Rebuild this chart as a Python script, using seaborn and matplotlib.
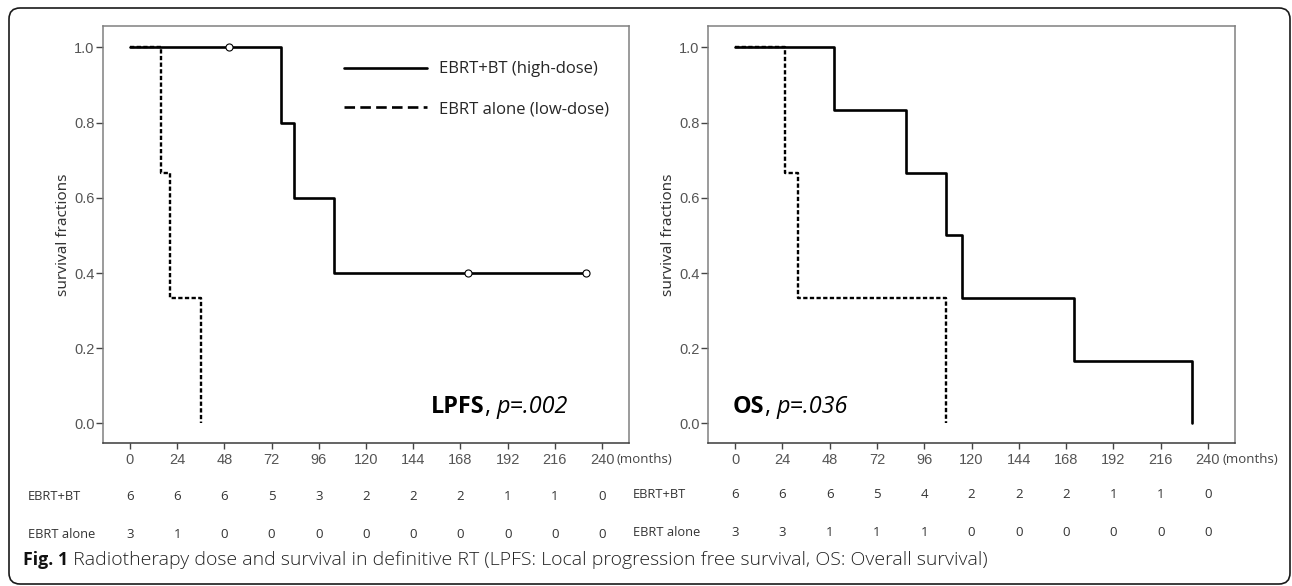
import matplotlib
matplotlib.use('Agg')
import numpy as np
import pandas as pd
import matplotlib.pyplot as plt
import seaborn as sns
from matplotlib.lines import Line2D
from matplotlib.patches import FancyBboxPatch
from matplotlib.transforms import blended_transform_factory

# Kaplan-Meier steps (months, survival fraction)
lpfs_hi_t = [0, 77, 83.5, 103.5, 232]
lpfs_hi_s = [1.0, 0.8, 0.6, 0.4, 0.4]
lpfs_lo_t = [0, 16, 20.5, 36]
lpfs_lo_s = [1.0, 0.667, 0.333, 0.0]
lpfs_cens_t = [50.5, 172, 232]
lpfs_cens_s = [1.0, 0.4, 0.4]

os_hi_t = [0, 50, 87, 107, 115, 172, 232]
os_hi_s = [1.0, 0.833, 0.667, 0.5, 0.333, 0.167, 0.0]
os_lo_t = [0, 25.5, 32, 107]
os_lo_s = [1.0, 0.667, 0.333, 0.0]
os_cens_t = []
os_cens_s = []

# numbers at risk
risk_times = [0, 24, 48, 72, 96, 120, 144, 168, 192, 216, 240]
lpfs_risk_hi = [6, 6, 6, 5, 3, 2, 2, 2, 1, 1, 0]
lpfs_risk_lo = [3, 1, 0, 0, 0, 0, 0, 0, 0, 0, 0]
os_risk_hi = [6, 6, 6, 5, 4, 2, 2, 2, 1, 1, 0]
os_risk_lo = [3, 3, 1, 1, 1, 0, 0, 0, 0, 0, 0]

arm_hi = "EBRT+BT"
arm_lo = "EBRT alone"
legend_hi = "EBRT+BT (high-dose)"
legend_lo = "EBRT alone (low-dose)"
yticks = [0.0, 0.2, 0.4, 0.6, 0.8, 1.0]
caption_bold = "Fig. 1"
caption_rest = " Radiotherapy dose and survival in definitive RT (LPFS: Local progression free survival, OS: Overall survival)"

sns.set_theme(style="white")
plt.rcParams['font.family'] = ['Open Sans', 'DejaVu Sans']
tick_font = ['Liberation Sans Narrow', 'Liberation Sans', 'DejaVu Sans']

W, H = 1292, 586
fig = plt.figure(figsize=(W / 100, H / 100), dpi=100)

ax_l = fig.add_axes([103 / W, 1 - 443 / H, 526 / W, 417 / H])
ax_r = fig.add_axes([708 / W, 1 - 443 / H, 527 / W, 417 / H])

LW = 1.9
DASH = (1.8, 1.0)


def draw_panel(ax, hi_t, hi_s, lo_t, lo_s, c_t, c_s, risk_hi, risk_lo, row_y):
    sns.lineplot(x=hi_t, y=hi_s, ax=ax, color='black', lw=LW,
                 drawstyle='steps-post', estimator=None, sort=False)
    sns.lineplot(x=lo_t, y=lo_s, ax=ax, color='black', lw=LW * 0.9,
                 drawstyle='steps-post', estimator=None, sort=False,
                 linestyle=(0, DASH))
    if len(c_t):
        sns.scatterplot(x=c_t, y=c_s, ax=ax, marker='o', s=26,
                        facecolor='white', edgecolor='black', linewidth=0.8,
                        zorder=4)

    ax.set_xlim(-13.7, 253.7)
    ax.set_ylim(-0.052, 1.057)
    ax.set_xticks(risk_times)
    ax.set_yticks(yticks)
    ax.set_yticklabels([f"{v:.1f}" for v in yticks])
    for lab in ax.get_xticklabels() + ax.get_yticklabels():
        lab.set_family(tick_font)
        lab.set_fontsize(10.5)
        lab.set_color('#555555')
    ax.tick_params(axis='y', direction='out', length=5, width=1, pad=1,
                   color='#444444', left=True)
    ax.tick_params(axis='x', direction='out', length=4.5, width=1, pad=3,
                   color='#444444', bottom=True)
    for side in ['left', 'top', 'right']:
        ax.spines[side].set_color('#808080')
        ax.spines[side].set_linewidth(1.1)
    ax.spines['bottom'].set_color('#3a3a3a')
    ax.spines['bottom'].set_linewidth(1.1)

    ax.set_xlabel('')
    ax.set_ylabel('survival fractions', fontsize=11, color='#333333',
                  family=['Noto Sans', 'DejaVu Sans'])
    ax.yaxis.set_label_coords(-0.061, 0.5)

    ax.annotate('(months)', xy=(240, -0.0384),
                xycoords=blended_transform_factory(ax.transData, ax.transAxes),
                xytext=(10.5, 0), textcoords='offset points',
                ha='left', va='center', fontsize=9.5, color='#444444',
                annotation_clip=False)

    # numbers-at-risk table
    tr = blended_transform_factory(ax.transData, fig.transFigure)
    tr_lab = blended_transform_factory(ax.transAxes, fig.transFigure)
    for name, row, y in [(arm_hi, risk_hi, row_y[0]), (arm_lo, risk_lo, row_y[1])]:
        ax.text(-0.1426, y, name, transform=tr_lab, ha='left', va='center',
                fontsize=9.3, color='#333333')
        for t, n in zip(risk_times, row):
            ax.text(t, y, str(n), transform=tr, ha='center', va='center',
                    fontsize=9.5, color='#333333')


def stat_label(ax, x, y, bold, pval):
    t1 = ax.text(x, y, bold, fontsize=16.8, weight='bold', ha='left',
                 va='baseline', color='black')
    t2 = ax.annotate(', ', xy=(1, 0), xycoords=t1, ha='left', va='bottom',
                     fontsize=16.8, color='black')
    ax.annotate(pval, xy=(1, 0), xycoords=t2, ha='left', va='bottom',
                fontsize=16.8, style='italic', color='black')


draw_panel(ax_l, lpfs_hi_t, lpfs_hi_s, lpfs_lo_t, lpfs_lo_s,
           lpfs_cens_t, lpfs_cens_s, lpfs_risk_hi, lpfs_risk_lo,
           (1 - 497 / H, 1 - 535 / H))
draw_panel(ax_r, os_hi_t, os_hi_s, os_lo_t, os_lo_s,
           os_cens_t, os_cens_s, os_risk_hi, os_risk_lo,
           (1 - 494 / H, 1 - 532 / H))

stat_label(ax_l, 153, 0.027, 'LPFS', 'p=.002')
stat_label(ax_r, -1, 0.027, 'OS', 'p=.036')

handles = [Line2D([], [], color='black', lw=LW),
           Line2D([], [], color='black', lw=LW, linestyle=(0, (4, 2)))]
ax_l.legend(handles, [legend_hi, legend_lo], loc='upper left',
            bbox_to_anchor=(0.458, 0.915), frameon=False, fontsize=12,
            handlelength=5.0, handletextpad=0.72, labelspacing=1.42,
            borderpad=0, borderaxespad=0)

t_cap = fig.text(23 / W, 1 - 565 / H, caption_bold, fontsize=12.8,
                 weight='bold', ha='left', va='baseline', color='#111111')
fig.add_artist(plt.Annotation(caption_rest, xy=(1, 0), xycoords=t_cap,
                              ha='left', va='bottom', fontsize=14,
                              fontweight=300, color='#222222'))

border = FancyBboxPatch((0.09, 0.02), 12.81, 5.76,
                        boxstyle='round,pad=0,rounding_size=0.11',
                        transform=fig.dpi_scale_trans, fill=False,
                        edgecolor='#1a1a1a', linewidth=1.2)
fig.add_artist(border)

fig.savefig('out.png', dpi=100)
